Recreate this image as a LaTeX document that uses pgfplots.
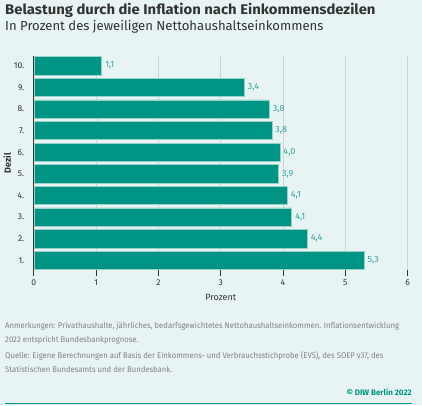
\documentclass[border=0pt]{standalone}
\usepackage{pgfplots}
\pgfplotsset{compat=1.18}
\usepackage{pgfplotstable}
\usepackage{fontspec}
\setmainfont{Fira Sans}
\newfontfamily\cond[FakeStretch=0.94]{Fira Sans}
\newfontfamily\wide[FakeStretch=1.06]{Fira Sans}

\definecolor{bg}{RGB}{232,244,244}
\definecolor{bar}{RGB}{0,148,133}
\definecolor{barline}{RGB}{150,210,200}
\definecolor{lbl}{RGB}{50,160,155}
\definecolor{txt}{RGB}{51,51,51}
\definecolor{note}{RGB}{130,130,130}
\definecolor{grid}{RGB}{205,212,212}

\pgfplotstableread{
dezil wert text
10 1.09 1,1
9 3.38 3,4
8 3.78 3,8
7 3.82 3,8
6 3.95 4,0
5 3.93 3,9
4 4.07 4,1
3 4.14 4,1
2 4.39 4,4
1 5.30 5,3
}\dezile

\begin{document}
\begin{tikzpicture}[x=1pt,y=1pt]
\fill[bg] (0,0) rectangle (422,405);

\node[anchor=base west, inner sep=0, text=txt, font=\wide\fontsize{14}{15}\selectfont\bfseries] at (5,390) {Belastung durch die Inflation nach Einkommensdezilen};
\node[anchor=base west, inner sep=0, text=txt, font=\fontsize{13.1}{15}\selectfont] at (5,374) {In Prozent des jeweiligen Nettohaushaltseinkommens};

\begin{axis}[
  at={(33.8pt,135pt)}, anchor=south west,
  scale only axis, width=373.8pt, height=214pt,
  xbar, bar width=18.3pt,
  xmin=0, xmax=6, ymin=0.55, ymax=10.45,
  axis lines=left,
  x axis line style={draw=none},
  y axis line style={draw=txt, line width=0.8pt, -},
  xtick={0,...,6}, ytick={1,...,10},
  yticklabels={1.,2.,3.,4.,5.,6.,7.,8.,9.,10.},
  xmajorgrids, major grid style={draw=grid, line width=0.8pt},
  x tick style={draw=txt, line width=0.8pt},
  major tick length=6pt,
  tick align=outside,
  y tick style={draw=none},
  tick label style={font=\fontsize{8.5}{9}\selectfont, text=txt},
  /pgf/number format/assume math mode=true,
  xlabel={Prozent}, ylabel={Dezil},
  xlabel style={font=\fontsize{9}{10}\selectfont, text=txt, yshift=-2pt},
  ylabel style={font=\fontsize{9}{10}\selectfont\bfseries, text=txt, yshift=-4pt},
  nodes near coords,
  point meta=explicit symbolic,
  every node near coord/.append style={font=\fontsize{9}{10}\selectfont, text=lbl, anchor=west, xshift=0pt},
]
\addplot[fill=bar, draw=barline, line width=0.5pt] table[x=wert, y=dezil, meta=text] {\dezile};
\end{axis}

\begin{scope}[every node/.style={anchor=base west, inner sep=0, text=note, align=left, font=\cond\fontsize{8.2}{14}\selectfont}]
\node at (5,77) {Anmerkungen: Privathaushalte, jährliches, bedarfsgewichtetes Nettohaushaltseinkommen. Inflationsentwicklung};
\node at (5,63) {2022 entspricht Bundesbankprognose.};
\node at (5,47) {Quelle: Eigene Berechnungen auf Basis der Einkommens- und Verbrauchsstichprobe (EVS), des SOEP v37, des};
\node at (5,33) {Statistischen Bundesamts und der Bundesbank.};
\end{scope}
\node[anchor=base east, inner sep=0, text=bar, font=\fontsize{8}{9}\selectfont\bfseries] at (412,9.5) {© DIW Berlin 2022};
\draw[bar, line width=1pt] (5,2) -- (412,2);
\end{tikzpicture}
\end{document}
